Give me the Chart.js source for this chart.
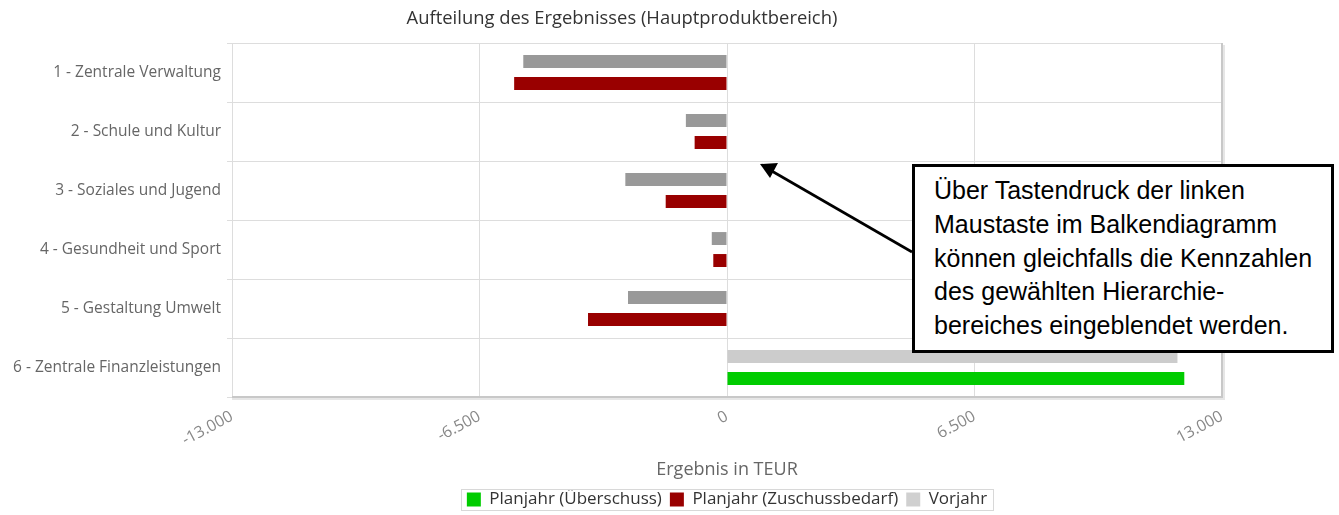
<!DOCTYPE html>
<html><head><meta charset="utf-8">
<script src="https://cdn.jsdelivr.net/npm/chart.js@4/dist/chart.umd.min.js"></script>
<style>
html,body{margin:0;padding:0;background:#fff;}
#wrap{position:relative;width:1339px;height:515px;}
canvas{position:absolute;left:0;top:0;}
#note{position:absolute;left:912px;top:164px;width:416px;height:183px;border:3px solid #000;background:#fff;
 font-family:"Liberation Sans",Arial,sans-serif;font-size:25px;line-height:33.8px;color:#000;white-space:nowrap;}
#note div{padding:7px 0 0 19px;}
#arrow{position:absolute;left:0;top:0;pointer-events:none;}
</style>
</head><body>
<div id="wrap">
<canvas id="c" width="1339" height="515"></canvas>
<svg id="arrow" width="1339" height="515">
 <line x1="912" y1="252" x2="770" y2="170" stroke="#000" stroke-width="2.6"/>
 <path d="M760,164 L778,163 L770,178 z" fill="#000"/>
</svg>
<div id="note"><div>Über Tastendruck der linken<br>Maustaste im Balkendiagramm<br>können gleichfalls die Kennzahlen<br>des gewählten Hierarchie-<br>bereiches eingeblendet werden.</div></div>
</div>
<script>
const categories = ["1 - Zentrale Verwaltung","2 - Schule und Kultur","3 - Soziales und Jugend","4 - Gesundheit und Sport","5 - Gestaltung Umwelt","6 - Zentrale Finanzleistungen"];
const vorjahr = [-5350, -1080, -2670, -400, -2600, 11830];
const planZuschuss = [-5590, -850, -1610, -360, -3650, null];
const planUeberschuss = [null, null, null, null, null, 12010];
const xTicks = [-13000, -6500, 0, 6500, 13000];

const FONT = '"Open Sans","DejaVu Sans",sans-serif';
const fmt = v => (v < 0 ? '-' : '') + Math.abs(v).toString().replace(/\B(?=(\d{3})+(?!\d))/g, '.');

const legendOrder = {0: 2, 1: 1, 2: 0};

const framePlugin = {
  id: 'frame',
  afterLayout(chart) {
    chart.scales.y.left = 0;
  },
  afterDraw(chart) {
    const {ctx, chartArea: a} = chart;
    ctx.save();
    ctx.strokeStyle = '#e6e6e6'; ctx.lineWidth = 2;
    ctx.beginPath();
    ctx.moveTo(a.right + 2, a.top + 2); ctx.lineTo(a.right + 2, a.bottom + 2); ctx.lineTo(a.left, a.bottom + 2);
    ctx.stroke();
    ctx.strokeStyle = '#c8c8c8'; ctx.lineWidth = 2;
    ctx.beginPath();
    ctx.moveTo(a.right, a.top); ctx.lineTo(a.right, a.bottom); ctx.lineTo(a.left, a.bottom);
    ctx.stroke();
    const lg = chart.legend;
    if (lg && lg.legendHitBoxes && lg.legendHitBoxes.length) {
      let l = Infinity, r = -Infinity, t = Infinity, b = -Infinity;
      lg.legendHitBoxes.forEach(h => { l = Math.min(l, h.left); r = Math.max(r, h.left + h.width); t = Math.min(t, h.top); b = Math.max(b, h.top + h.height); });
      ctx.strokeStyle = '#d8d8d8'; ctx.lineWidth = 1;
      ctx.strokeRect(Math.round(l - 6) + 0.5, Math.round(t - 2) + 0.5, Math.round(r - l + 12), Math.round(b - t + 4));
    }
    ctx.restore();
  }
};

new Chart(document.getElementById('c'), {
  type: 'bar',
  data: {
    labels: categories,
    datasets: [
      { label: 'Vorjahr', data: vorjahr, stack: 'a',
        backgroundColor: vorjahr.map(v => v < 0 ? '#999999' : '#cccccc') },
      { label: 'Planjahr (Zuschussbedarf)', data: planZuschuss, stack: 'b', backgroundColor: '#990000' },
      { label: 'Planjahr (Überschuss)', data: planUeberschuss, stack: 'b', backgroundColor: '#00cc00' }
    ]
  },
  options: {
    indexAxis: 'y',
    responsive: false,
    animation: false,
    categoryPercentage: 0.745,
    barPercentage: 0.59,
    layout: { padding: { left: 22, right: 117, top: 0, bottom: -3 } },
    scales: {
      x: {
        stacked: true,
        min: -13000, max: 13000,
        afterBuildTicks(s) { s.ticks = xTicks.map(v => ({value: v})); },
        afterFit(s) { s.height = 86; },
        ticks: { callback: v => fmt(v), color: '#888', font: {family: FONT, size: 16}, minRotation: 28, maxRotation: 28, padding: 10 },
        grid: { color: '#dddddd', drawTicks: false },
        border: { display: false },
        title: { display: true, text: 'Ergebnis in TEUR', color: '#666', font: {family: FONT, size: 18}, padding: {top: 14, bottom: 2} }
      },
      y: {
        stacked: true,
        afterFit(s) { s.width = 210; },
        ticks: { color: '#666', font: {family: FONT, size: 15.5}, padding: 6 },
        grid: { color: '#dddddd', offset: true, tickLength: 5 },
        border: { color: '#dddddd' }
      }
    },
    plugins: {
      title: { display: true, text: 'Aufteilung des Ergebnisses (Hauptproduktbereich)', color: '#333', font: {family: FONT, size: 18.4, weight: 'normal'}, padding: {top: 8, bottom: 13} },
      legend: {
        position: 'bottom', fullSize: false,
        labels: { boxWidth: 14, boxHeight: 14, color: '#333', font: {family: FONT, size: 17}, padding: 8,
          sort: (a, b) => legendOrder[a.datasetIndex] - legendOrder[b.datasetIndex],
          generateLabels(chart) {
            const items = Chart.defaults.plugins.legend.labels.generateLabels(chart);
            items.forEach(it => { if (it.datasetIndex === 0) it.fillStyle = '#d0d0d0'; it.strokeStyle = 'transparent'; it.lineWidth = 0; });
            return items;
          }
        }
      },
      tooltip: { enabled: false }
    }
  },
  plugins: [framePlugin]
});
</script>
</body></html>
